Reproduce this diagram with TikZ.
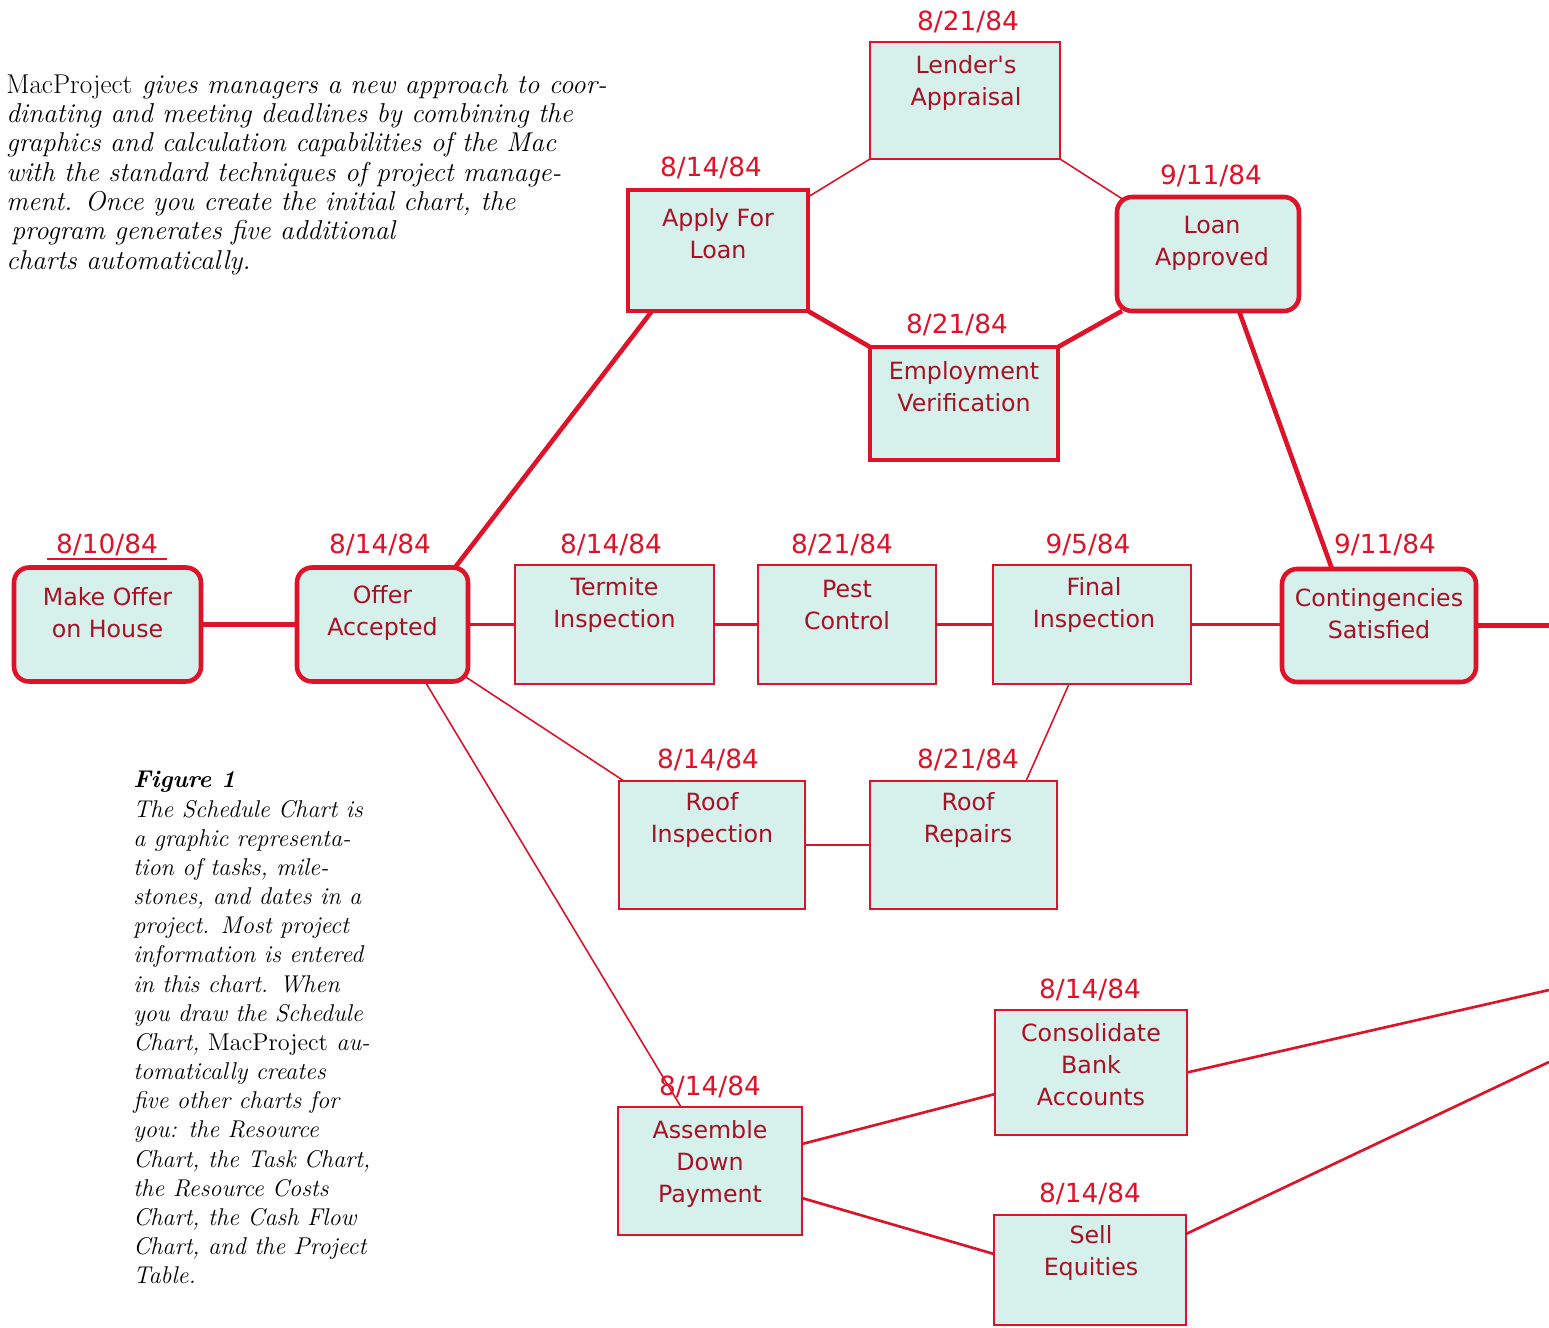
\documentclass[tikz,border=0pt]{standalone}
\usepackage{fontspec}
\newfontfamily\chicago{DejaVu Sans}
\usetikzlibrary{calc}
\definecolor{boxfill}{RGB}{214,241,236}
\definecolor{boxred}{RGB}{222,18,40}
\definecolor{txtred}{RGB}{170,16,36}
\begin{document}
\begin{tikzpicture}[x=0.02cm,y=-0.02cm,
  box/.style={draw=boxred, fill=boxfill, inner sep=0pt, outer sep=0pt},
  crit/.style={box, line width=2.6pt},
  norm/.style={box, line width=1.3pt},
  rnd/.style={rounded corners=0.3cm},
  txt/.style={text=txtred, font=\chicago\fontsize{13.5}{18.2}\selectfont, align=center, inner sep=0pt},
  datelbl/.style={text=boxred, font=\chicago\fontsize{15}{18}\selectfont, inner sep=0pt},
  thickline/.style={draw=boxred, line width=2.6pt},
  medline/.style={draw=boxred, line width=1.5pt},
  thinline/.style={draw=boxred, line width=0.9pt},
  intro/.style={align=left, inner sep=0pt, font=\fontsize{15.5}{16.7}\selectfont\itshape},
  capt/.style={align=left, inner sep=0pt, font=\fontsize{13.8}{16.6}\selectfont\itshape}
]
\fill[white] (0,0) rectangle (1549,1328);
\useasboundingbox (0,0) rectangle (1549,1328);

% boxes
\node[crit,rnd,minimum width=3.74cm,minimum height=2.28cm] (mo) at (107.5,624.5) {};
\node[crit,rnd,minimum width=3.42cm,minimum height=2.28cm] (oa) at (382.5,624.5) {};
\node[norm,minimum width=3.98cm,minimum height=2.38cm] (ti) at (614.5,624.5) {};
\node[norm,minimum width=3.56cm,minimum height=2.38cm] (pc) at (847,624.5) {};
\node[norm,minimum width=3.96cm,minimum height=2.38cm] (fi) at (1092,624.5) {};
\node[crit,rnd,minimum width=3.88cm,minimum height=2.26cm] (cs) at (1379,625.5) {};
\node[crit,minimum width=3.6cm,minimum height=2.42cm] (al) at (718,250.5) {};
\node[norm,minimum width=3.8cm,minimum height=2.34cm] (la) at (965,100.5) {};
\node[crit,rnd,minimum width=3.64cm,minimum height=2.28cm] (lp) at (1208,254) {};
\node[crit,minimum width=3.76cm,minimum height=2.26cm] (ev) at (964,403.5) {};
\node[norm,minimum width=3.72cm,minimum height=2.56cm] (ri) at (712,845) {};
\node[norm,minimum width=3.74cm,minimum height=2.56cm] (rr) at (963.5,845) {};
\node[norm,minimum width=3.84cm,minimum height=2.5cm] (cb) at (1091,1072.5) {};
\node[norm,minimum width=3.68cm,minimum height=2.56cm] (ad) at (710,1171) {};
\node[norm,minimum width=3.84cm,minimum height=2.2cm] (se) at (1090,1270) {};

% box texts
\node[txt] (mo-t) at (107.5,613) {Make Offer\\on House};
\node[txt] (oa-t) at (382.5,613) {Offer\\Accepted};
\node[txt] (ti-t) at (614.5,605) {Termite\\Inspection};
\node[txt] (pc-t) at (847,605) {Pest\\Control};
\node[txt] (fi-t) at (1094,605) {Final\\Inspection};
\node[txt] (cs-t) at (1379,614) {Contingencies\\Satisfied};
\node[txt] (al-t) at (718,234) {Apply For\\Loan};
\node[txt] (la-t) at (966,83) {Lender's\\Appraisal};
\node[txt] (lp-t) at (1212,243) {Loan\\Approved};
\node[txt] (ev-t) at (964,386.5) {Employment\\Verification};
\node[txt] (ri-t) at (712,820) {Roof\\Inspection};
\node[txt] (rr-t) at (968,820) {Roof\\Repairs};
\node[txt] (cb-t) at (1091,1065) {Consolidate\\Bank\\Accounts};
\node[txt] (ad-t) at (710,1164) {Assemble\\Down\\Payment};
\node[txt] (se-t) at (1091,1253) {Sell\\Equities};

% dates
\node[datelbl] (mo-d) at (107,545) {8/10/84};
\coordinate (ulA) at (47,559);
\coordinate (ulB) at (167,559);
\draw[thinline, line width=1.1pt] (ulA) -- (ulB);
\node[datelbl] (oa-d) at (380,545) {8/14/84};
\node[datelbl] (ti-d) at (611,545) {8/14/84};
\node[datelbl] (pc-d) at (842,545) {8/21/84};
\node[datelbl] (fi-d) at (1088,545) {9/5/84};
\node[datelbl] (cs-d) at (1385,545) {9/11/84};
\node[datelbl] (al-d) at (711,168) {8/14/84};
\node[datelbl] (la-d) at (968,22) {8/21/84};
\node[datelbl] (lp-d) at (1211,176) {9/11/84};
\node[datelbl] (ev-d) at (957,325) {8/21/84};
\node[datelbl] (ri-d) at (708,760) {8/14/84};
\node[datelbl] (rr-d) at (968,760) {8/21/84};
\node[datelbl] (cb-d) at (1090,990) {8/14/84};
\node[datelbl] (ad-d) at (710,1087) {8/14/84};
\node[datelbl] (se-d) at (1090,1194) {8/14/84};

% free ends at the right edge
\coordinate (edgeA) at (1549,625.5);
\coordinate (edgeB) at (1549,990);
\coordinate (edgeC) at (1549,1062);

% connectors
\draw[thickline] (mo.east) -- (oa.west);
\draw[medline] (oa.east) -- (ti.west);
\draw[medline] (ti.east) -- (pc.west);
\draw[medline] (pc.east) -- (fi.west);
\draw[medline] (fi.east) -- (fi.east -| cs.west);
\draw[thickline] (cs.east) -- (edgeA);
\draw[thickline] ($(oa.north east)+(-13,0)$) -- ($(al.south west)+(24,0)$);
\draw[thinline] ($(al.north east)+(0,7)$) -- (la.south west);
\draw[thinline] (la.south east) -- ($(lp.north west)+(7,3)$);
\draw[thickline] (al.south east) -- (ev.north west);
\draw[thickline] (ev.north east) -- ($(lp.south west)+(5,0)$);
\draw[thickline] ($(lp.south west)+(122,0)$) -- ($(cs.north west)+(50,0)$);
\draw[thinline] ($(oa.south east)+(-3,-5)$) -- ($(ri.north west)+(5,0)$);
\draw[thinline] ($(oa.south west)+(128,0)$) -- ($(ad.north west)+(63,0)$);
\draw[medline] (ri.east) -- (rr.west);
\draw[thinline] ($(rr.north west)+(156,0)$) -- ($(fi.south west)+(76,0)$);
\draw[medline] ($(ad.north east)+(0,37)$) -- ($(cb.north west)+(0,84)$);
\draw[medline] ($(ad.north east)+(0,91)$) -- ($(se.north west)+(0,39)$);
\draw[medline] (cb.east) -- (edgeB);
\draw[medline] ($(se.north east)+(0,19)$) -- (edgeC);

% texts
\node[intro, anchor=north west] (introtext) at (6,74) {{\upshape MacProject} gives managers a new approach to coor-\\
dinating and meeting deadlines by combining the\\
graphics and calculation capabilities of the Mac\\
with the standard techniques of project manage-\\
ment. Once you create the initial chart, the\\
\hspace{3pt}program generates five additional\\
charts automatically.};
\node[capt, anchor=north west] (caption) at (133,771) {\textbf{Figure 1}\\
The Schedule Chart is\\
a graphic representa-\\
tion of tasks, mile-\\
stones, and dates in a\\
project. Most project\\
information is entered\\
in this chart. When\\
you draw the Schedule\\
Chart, {\upshape MacProject} au-\\
tomatically creates\\
five other charts for\\
you: the Resource\\
Chart, the Task Chart,\\
the Resource Costs\\
Chart, the Cash Flow\\
Chart, and the Project\\
Table.};
\end{tikzpicture}
\end{document}
